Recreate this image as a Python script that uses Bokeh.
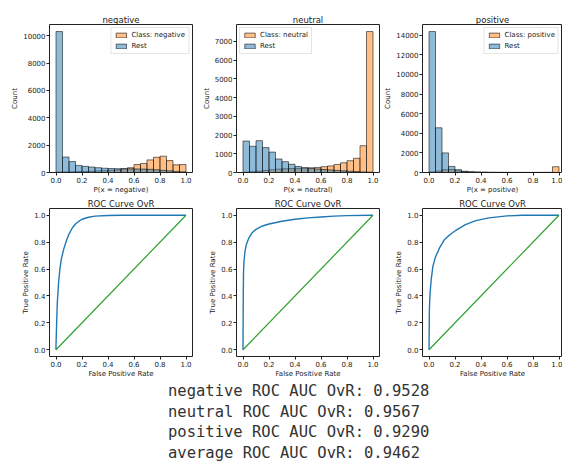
from bokeh.plotting import figure
from bokeh.models import (FixedTicker, Legend, LegendItem, Div, Range1d,
                          PrintfTickFormatter)
from bokeh.layouts import row, column
from bokeh.embed import file_html
from bokeh.resources import INLINE

# ---------------- data ----------------
class_names = ["negative", "neutral", "positive"]
bin_edges = [0.0, 0.05, 0.1, 0.15, 0.2, 0.25, 0.3, 0.35, 0.4, 0.45, 0.5,
             0.55, 0.6, 0.65, 0.7, 0.75, 0.8, 0.85, 0.9, 0.95, 1.0]

neg_class = [30, 40, 50, 60, 70, 90, 110, 130, 160, 200,
             280, 350, 580, 660, 920, 1110, 1190, 870, 560, 580]
neg_rest = [10300, 1130, 800, 520, 450, 400, 350, 310, 290, 280,
            270, 270, 260, 250, 230, 200, 160, 120, 80, 50]

neu_class = [20, 40, 70, 110, 150, 180, 200, 210, 220, 230,
             250, 270, 310, 350, 430, 520, 630, 760, 1430, 7530]
neu_rest = [1680, 1400, 1700, 1330, 1090, 720, 580, 440, 320, 260,
            220, 190, 160, 140, 110, 90, 70, 50, 30, 20]

pos_class = [60, 150, 280, 300, 180, 100, 60, 40, 30, 20,
             15, 10, 10, 8, 8, 8, 10, 12, 20, 590]
pos_rest = [14380, 4560, 2000, 620, 290, 130, 70, 40, 25, 15,
            10, 8, 6, 5, 4, 3, 3, 2, 2, 5]

hist_yticks = [
    [0, 2000, 4000, 6000, 8000, 10000],
    [0, 1000, 2000, 3000, 4000, 5000, 6000, 7000],
    [0, 2000, 4000, 6000, 8000, 10000, 12000, 14000],
]
prob_ticks = [0.0, 0.2, 0.4, 0.6, 0.8, 1.0]

neg_fpr = [0.0, 0.0, 0.005, 0.01, 0.02, 0.03, 0.04, 0.06, 0.08, 0.1, 0.125,
           0.15, 0.175, 0.2, 0.25, 0.3, 0.4, 0.5, 1.0]
neg_tpr = [0.0, 0.03, 0.2, 0.35, 0.5, 0.6, 0.67, 0.75, 0.81, 0.86, 0.905,
           0.935, 0.955, 0.97, 0.985, 0.993, 0.998, 1.0, 1.0]

neu_fpr = [0.0, 0.002, 0.004, 0.008, 0.015, 0.025, 0.045, 0.07, 0.1, 0.15,
           0.2, 0.3, 0.4, 0.5, 0.6, 0.7, 0.8, 1.0]
neu_tpr = [0.0, 0.4, 0.58, 0.66, 0.73, 0.78, 0.83, 0.87, 0.895, 0.92,
           0.935, 0.955, 0.97, 0.98, 0.987, 0.993, 0.997, 1.0]

pos_fpr = [0.0, 0.003, 0.008, 0.018, 0.03, 0.05, 0.08, 0.12, 0.16, 0.21,
           0.28, 0.36, 0.46, 0.6, 0.72, 1.0]
pos_tpr = [0.0, 0.3, 0.42, 0.53, 0.62, 0.69, 0.755, 0.82, 0.855, 0.89,
           0.93, 0.96, 0.98, 0.995, 1.0, 1.0]

chance_x = [0.0, 1.0]
chance_y = [0.0, 1.0]

auc_labels = ["negative", "neutral", "positive", "average"]
auc_values = [0.9528, 0.9567, 0.9290, 0.9462]

# ---------------- style ----------------
FONT = "DejaVu Sans"
TXT = "#1a1a1a"
ORANGE = "#ff7f0e"
BLUE = "#1f77b4"

left_borders = [41, 42, 41]
right_borders = [2, 2, 0]
frame_widths = [143, 143, 140]
x_ends = [1.05, 1.05, -0.05 + 140 / 130.0]


def style(p, title):
    p.title.text = title
    p.title.align = "center"
    p.title.text_font = FONT
    p.title.text_font_size = "8.5px"
    p.title.text_font_style = "normal"
    p.title.text_color = TXT
    p.title.text_line_height = 1.0
    p.title.standoff = 0
    p.grid.visible = False
    p.outline_line_color = "#222222"
    p.outline_line_width = 1
    p.background_fill_color = "white"
    p.border_fill_color = "white"
    for ax in (p.xaxis, p.yaxis):
        ax.axis_line_color = None
        ax.major_tick_in = 0
        ax.major_tick_out = 3
        ax.major_tick_line_color = "#222222"
        ax.minor_tick_line_color = None
        ax.major_label_text_font = FONT
        ax.major_label_text_font_size = "7px"
        ax.major_label_text_color = TXT
        ax.major_label_text_line_height = 1.0
        ax.major_label_standoff = 1
        ax.axis_label_text_font = FONT
        ax.axis_label_text_font_size = "7px"
        ax.axis_label_text_font_style = "normal"
        ax.axis_label_text_color = TXT
        ax.axis_label_text_line_height = 1.0
        ax.axis_label_standoff = 1
    p.xaxis.axis_label_standoff = 0
    p.xaxis.ticker = FixedTicker(ticks=prob_ticks)
    p.xaxis.formatter = PrintfTickFormatter(format="%.1f")


hist_data = [(neg_class, neg_rest), (neu_class, neu_rest), (pos_class, pos_rest)]
legend_locs = ["top_right", "top_left", "top_right"]

hist_figs = []
for i, name in enumerate(class_names):
    cls, rest = hist_data[i]
    ymax = max(max(cls), max(rest)) * 1.05
    p = figure(frame_width=frame_widths[i], frame_height=148,
               x_range=Range1d(-0.05, x_ends[i]), y_range=Range1d(0, ymax),
               output_backend="svg", toolbar_location=None,
               min_border_left=left_borders[i], min_border_right=right_borders[i],
               min_border_top=12, min_border_bottom=24)
    style(p, name)
    r1 = p.quad(left=bin_edges[:-1], right=bin_edges[1:], bottom=0, top=cls,
                fill_color=ORANGE, fill_alpha=0.5,
                line_color="#111111", line_alpha=0.65, line_width=0.9)
    r2 = p.quad(left=bin_edges[:-1], right=bin_edges[1:], bottom=0, top=rest,
                fill_color=BLUE, fill_alpha=0.5,
                line_color="#111111", line_alpha=0.65, line_width=0.9)
    p.yaxis.ticker = FixedTicker(ticks=hist_yticks[i])
    p.yaxis.formatter = PrintfTickFormatter(format="%d")
    p.xaxis.axis_label = "P(x = %s)" % name
    p.yaxis.axis_label = "Count"
    leg = Legend(items=[LegendItem(label="Class: %s" % name, renderers=[r1]),
                        LegendItem(label="Rest", renderers=[r2])],
                 location=legend_locs[i])
    leg.label_text_font = FONT
    leg.label_text_font_size = "7px"
    leg.label_text_color = TXT
    leg.glyph_width = 13
    leg.glyph_height = 6
    leg.label_height = 7
    leg.label_standoff = 4
    leg.spacing = 3
    leg.padding = 3
    leg.margin = 3
    leg.border_line_color = "#cccccc"
    leg.background_fill_alpha = 0.8
    p.add_layout(leg)
    hist_figs.append(p)

roc_data = [(neg_fpr, neg_tpr), (neu_fpr, neu_tpr), (pos_fpr, pos_tpr)]
roc_figs = []
for i, name in enumerate(class_names):
    fpr, tpr = roc_data[i]
    p = figure(frame_width=frame_widths[i], frame_height=148,
               x_range=Range1d(-0.05, x_ends[i]), y_range=Range1d(-0.05, 1.05),
               output_backend="svg", toolbar_location=None,
               min_border_left=left_borders[i], min_border_right=right_borders[i],
               min_border_top=10, min_border_bottom=24)
    style(p, "ROC Curve OvR")
    p.line(fpr, tpr, line_color=BLUE, line_width=1.4)
    p.line(chance_x, chance_y, line_color="#2ca02c", line_width=1.2)
    p.yaxis.ticker = FixedTicker(ticks=prob_ticks)
    p.yaxis.formatter = PrintfTickFormatter(format="%.1f")
    p.xaxis.axis_label = "False Positive Rate"
    p.yaxis.axis_label = "True Positive Rate"
    roc_figs.append(p)

sep = Div(text="<div style='width:550px;height:1px;background:#d8d8d8;'></div>",
          width=550, height=1, margin=(3, 0, 0, 4))

lines = ["%s ROC AUC OvR: %.4f" % (lab, v) for lab, v in zip(auc_labels, auc_values)]
txt = Div(text="<div style='font-family:\"DejaVu Sans Mono\",monospace;"
               "font-size:15.5px;line-height:20.5px;color:#333;white-space:pre;'>"
               + "\n".join(lines) + "</div>",
          width=300, height=82, margin=(1, 0, 0, 160),
          styles={"overflow": "hidden"})

layout = column(sep, row(*hist_figs), row(*roc_figs), txt)
layout.margin = (8, 0, 0, 8)

open("out.html", "w").write(file_html(layout, INLINE))
